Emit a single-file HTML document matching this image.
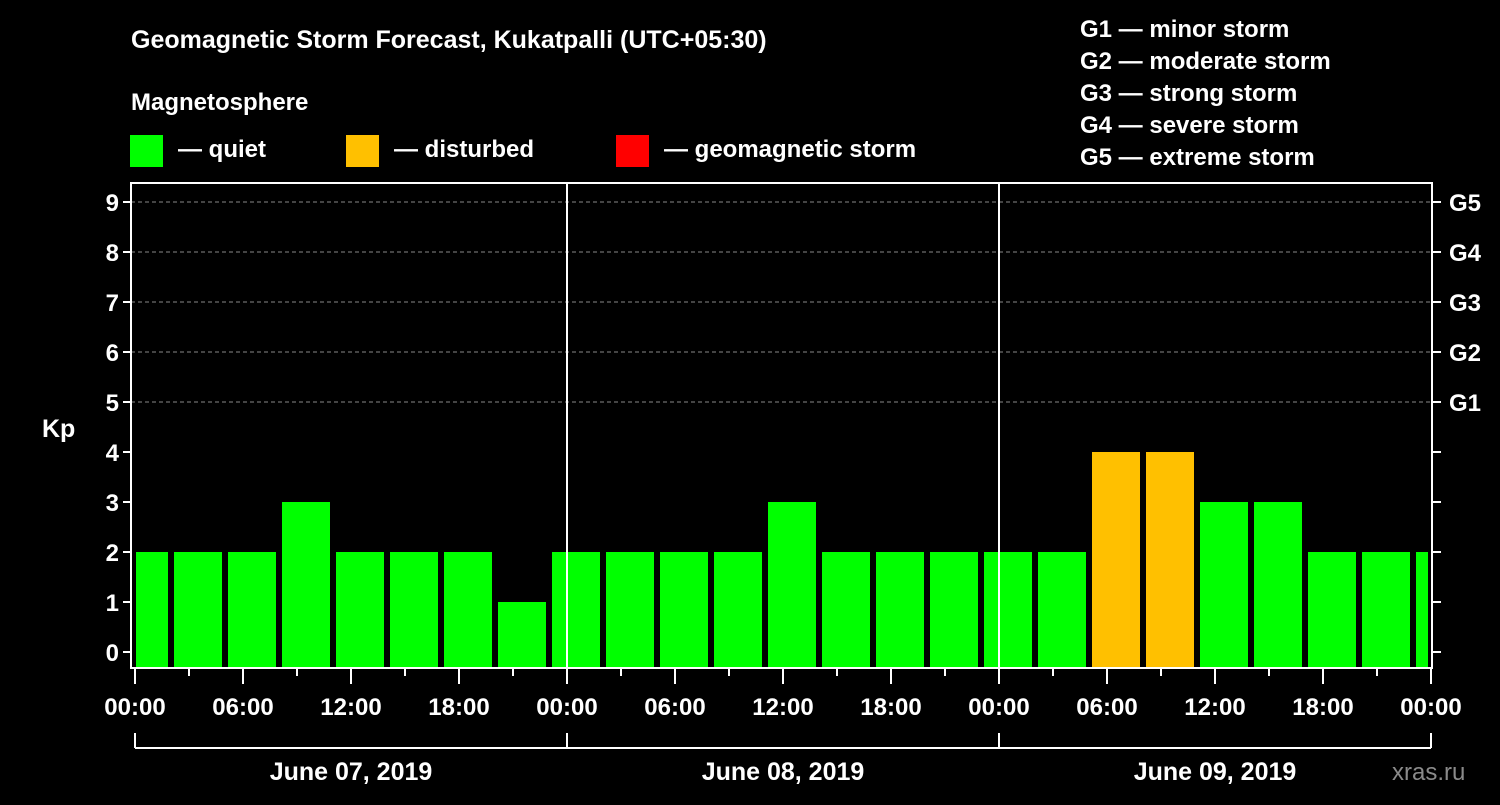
<!DOCTYPE html>
<html><head><meta charset="utf-8"><style>
body{margin:0;background:#000;width:1500px;height:800px;overflow:hidden}
svg text{font-family:"Liberation Sans",Arial,sans-serif;font-weight:bold;fill:#fff}
</style></head><body>
<svg id="chart" width="1500" height="800" xmlns="http://www.w3.org/2000/svg">
<rect width="1500" height="800" fill="#000"/>
<text x="131" y="48" font-size="25">Geomagnetic Storm Forecast, Kukatpalli (UTC+05:30)</text>
<text x="131" y="110" font-size="24">Magnetosphere</text>
<g><rect x="130" y="135" width="33" height="32" fill="#00ff00"/><text x="178" y="157" font-size="24">— quiet</text></g>
<g><rect x="346" y="135" width="33" height="32" fill="#ffc000"/><text x="394" y="157" font-size="24">— disturbed</text></g>
<g><rect x="616" y="135" width="33" height="32" fill="#ff0000"/><text x="664" y="157" font-size="24">— geomagnetic storm</text></g>
<g font-size="24">
<text x="1080" y="37">G1 — minor storm</text>
<text x="1080" y="69">G2 — moderate storm</text>
<text x="1080" y="101">G3 — strong storm</text>
<text x="1080" y="133">G4 — severe storm</text>
<text x="1080" y="165">G5 — extreme storm</text>
</g>
<text x="42" y="437" font-size="25">Kp</text>
<text x="1392" y="780" font-size="24" fill="#888" style="fill:#8a8a8a;font-weight:normal">xras.ru</text>
<g id="grid"></g><g id="bars"></g><g id="axes"></g>
</svg>
<script>
const kpValues=[2,2,2,3,2,2,2,1,2,2,2,2,3,2,2,2,2,2,4,4,3,3,2,2,2];
const yTicks=[0,1,2,3,4,5,6,7,8,9];
const gLabels=["G1","G2","G3","G4","G5"];
const dayLabels=["June 07, 2019","June 08, 2019","June 09, 2019"];
const hourLabels=["00:00","06:00","12:00","18:00"];
const firstIntervalStart=-1, intervalHours=3;
const NS="http://www.w3.org/2000/svg";
const L=131,R=1432,T=183,B=668,X0=135;
const x=h=>X0+h*18;
const y=v=>652-v*50;
function mk(tag,attrs,parent){const e=document.createElementNS(NS,tag);for(const k in attrs)e.setAttribute(k,attrs[k]);parent.appendChild(e);return e;}
const grid=document.getElementById('grid'),bars=document.getElementById('bars'),axes=document.getElementById('axes');
for(let v=5;v<=9;v++){const l=mk('line',{x1:L,x2:R,y1:y(v),y2:y(v),stroke:'#888','stroke-dasharray':'4,3','stroke-width':1},grid);

}
kpValues.forEach((v,i)=>{
 const s=firstIntervalStart+i*intervalHours,e=s+intervalHours;
 const x1=Math.max(x(s)+3,L+5),x2=Math.min(x(e)-3,R-4);
 const c=v>=5?'#ff0000':(v>=4?'#ffc000':'#00ff00');
 const r=mk('rect',{x:x1,y:y(v),width:x2-x1,height:B-y(v),fill:c},bars);
 
 
});
// frame
mk('rect',{x:L,y:T,width:R-L,height:B-T,fill:'none',stroke:'#fff','stroke-width':2},axes);
[1,2].forEach(d=>{const l=mk('line',{x1:x(24*d),x2:x(24*d),y1:T,y2:B,stroke:'#fff','stroke-width':2},axes);

});
yTicks.forEach(v=>{
 mk('line',{x1:L-8,x2:L,y1:y(v),y2:y(v),stroke:'#fff','stroke-width':2},axes);
 mk('line',{x1:R,x2:R+9,y1:y(v),y2:y(v),stroke:'#fff','stroke-width':2},axes);
 const t=mk('text',{x:L-12,y:y(v)+9,'text-anchor':'end','font-size':24},axes);t.textContent=v;
 
 
});
gLabels.forEach((g,i)=>{const t=mk('text',{x:1449,y:y(5+i)+9,'font-size':24},axes);t.textContent=g;
 
 });
for(let h=0;h<=72;h+=3){const maj=h%6===0;mk('line',{x1:x(h),x2:x(h),y1:B,y2:B+(maj?16:8),stroke:'#fff','stroke-width':2},axes);
 if(maj){const t=mk('text',{x:x(h),y:715,'text-anchor':'middle','font-size':24},axes);t.textContent=hourLabels[(h/6)%4];
 
 }}
mk('line',{x1:x(0),x2:x(72),y1:748,y2:748,stroke:'#fff','stroke-width':2},axes);
for(let d=0;d<=3;d++)mk('line',{x1:x(24*d),x2:x(24*d),y1:733,y2:748,stroke:'#fff','stroke-width':2},axes);
dayLabels.forEach((s,i)=>{const t=mk('text',{x:x(24*i+12),y:780,'text-anchor':'middle','font-size':25},axes);t.textContent=s;
 
 });
</script>
</body></html>
